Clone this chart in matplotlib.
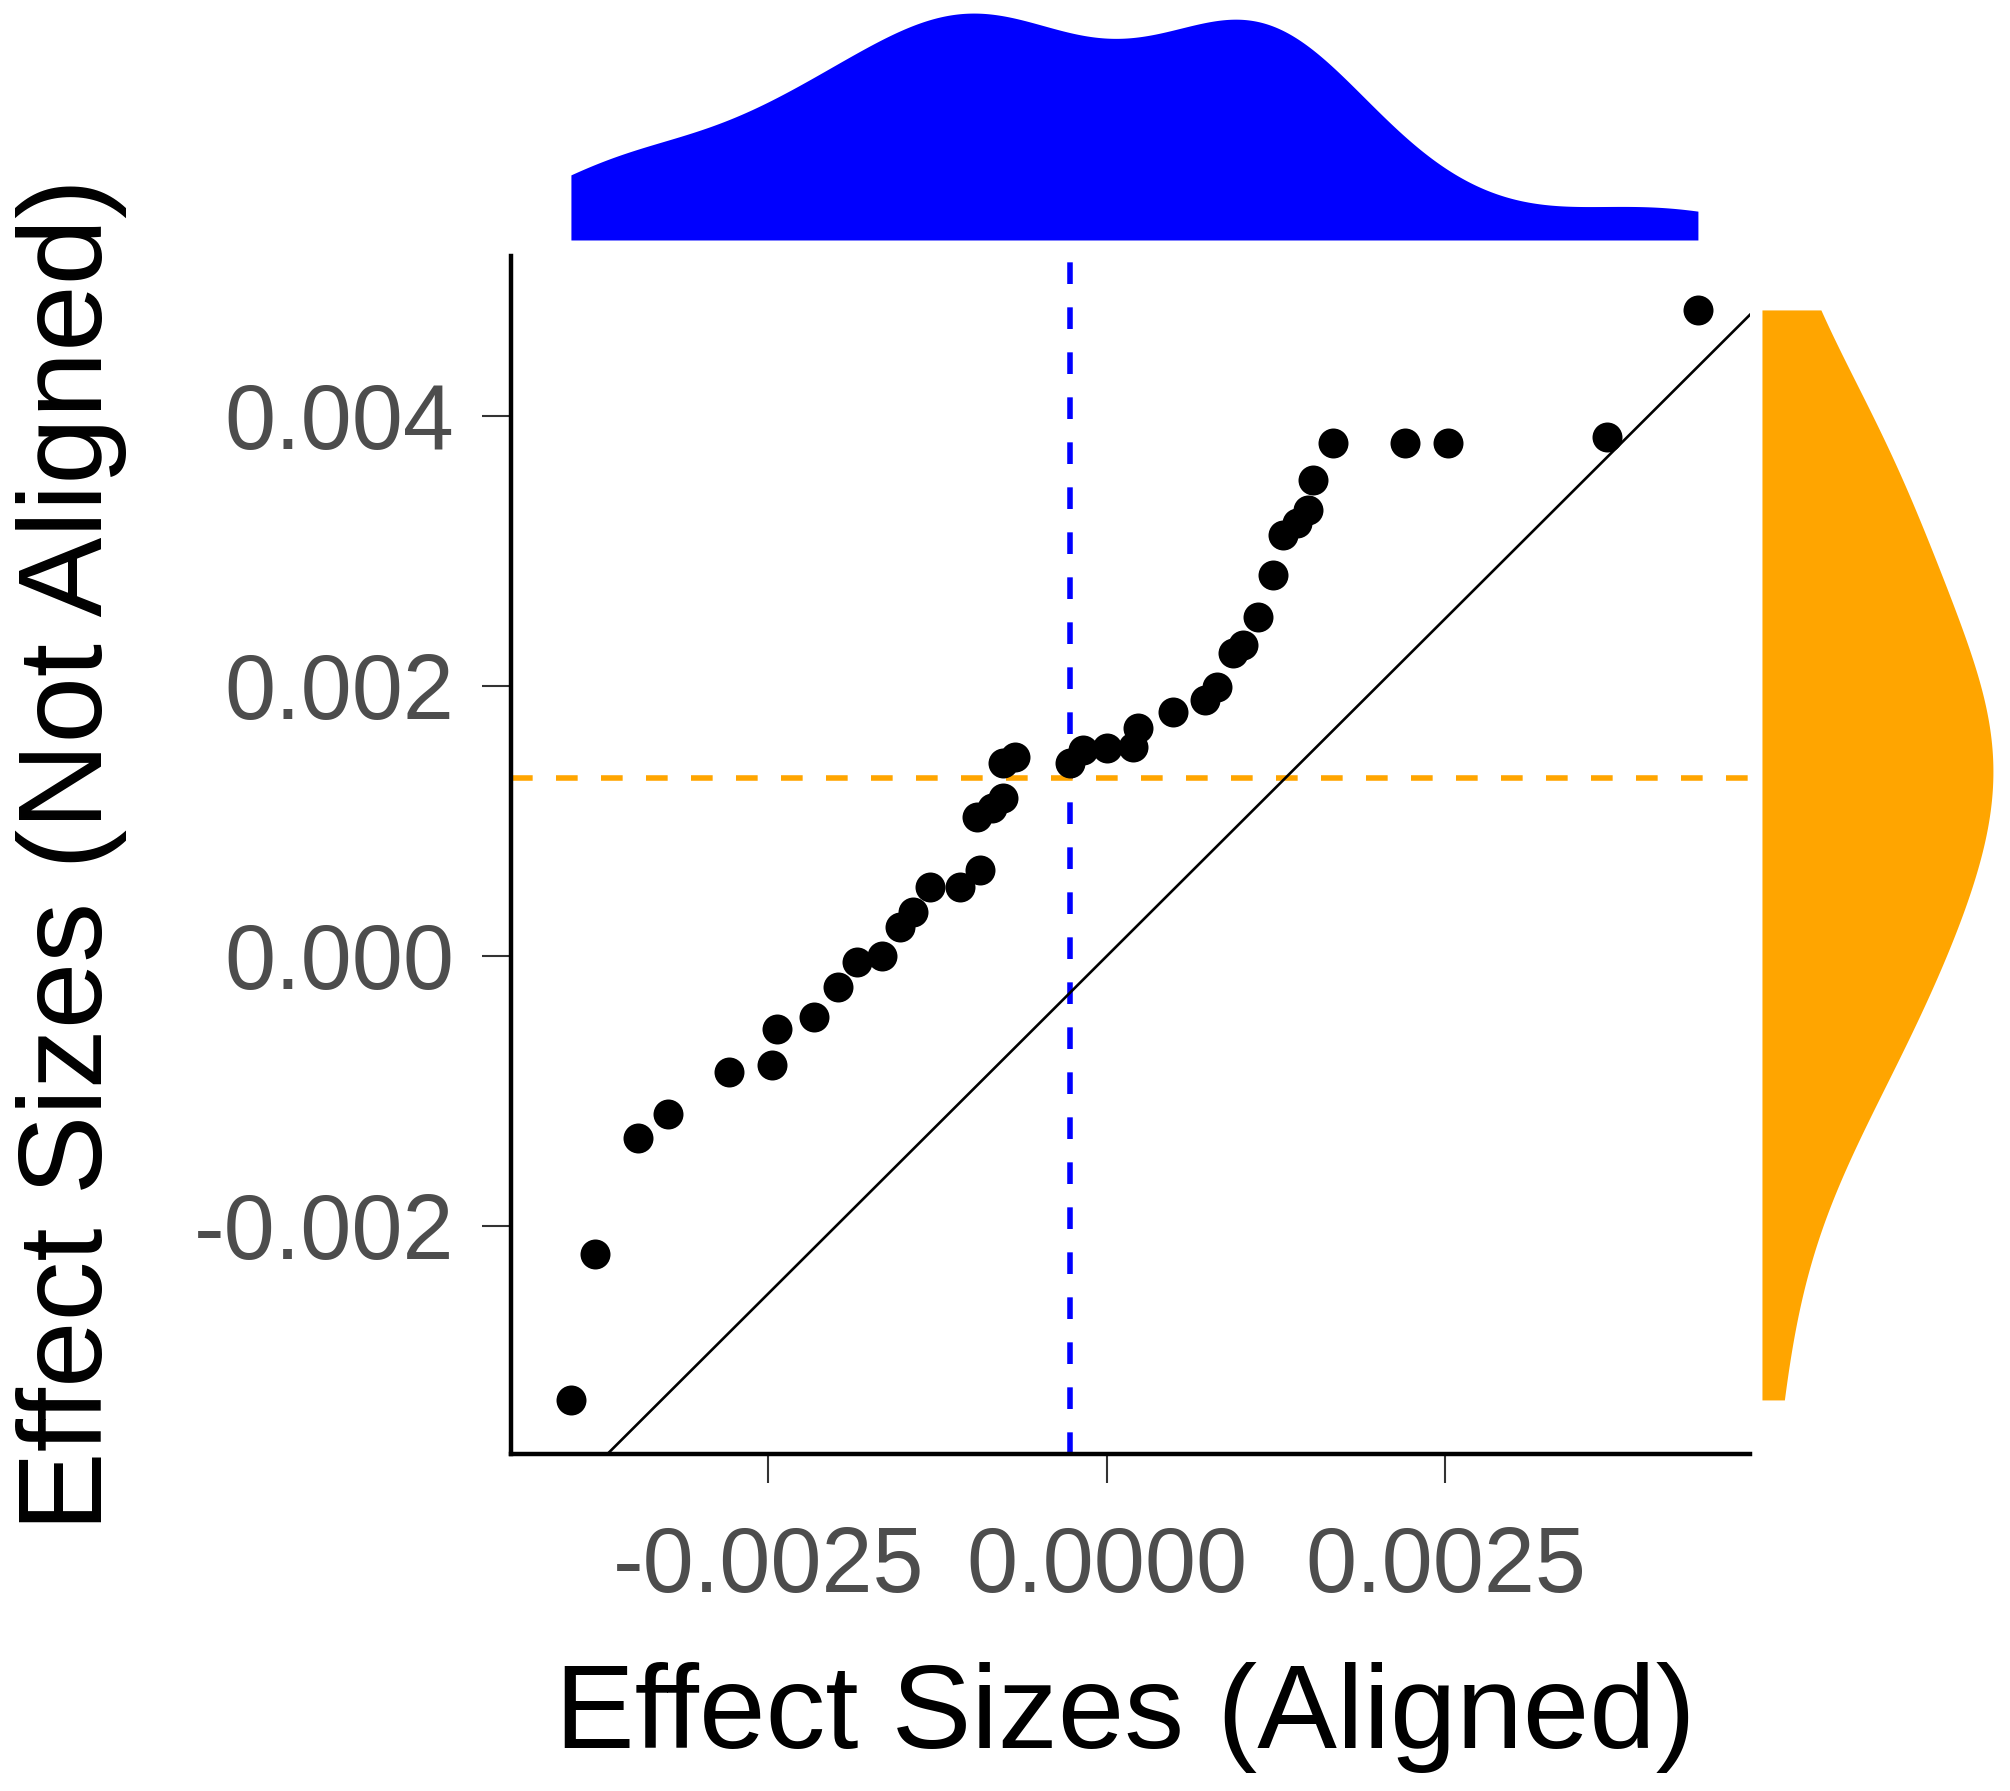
import numpy as np
import matplotlib
matplotlib.use("Agg")
import matplotlib.pyplot as plt

plt.rcParams['font.family'] = ['Liberation Sans', 'DejaVu Sans']

# effect sizes (aligned on x, not aligned on y)
x_aligned = [-0.003959, -0.003781, -0.003464, -0.003242, -0.002792, -0.002474,
             -0.002437, -0.002164, -0.001987, -0.001846, -0.001662, -0.001529,
             -0.001433, -0.001307, -0.001086, -0.000938, -0.000960, -0.000849,
             -0.000768, -0.000768, -0.000679, -0.000273, -0.000177, 0.000000,
             0.000192, 0.000229, 0.000487, 0.000724, 0.000812, 0.000931,
             0.001004, 0.001115, 0.001226, 0.001300, 0.001403, 0.001484,
             0.001521, 0.001669, 0.002201, 0.002518, 0.003693, 0.004365]
y_not_aligned = [-0.003289, -0.002207, -0.001348, -0.001170, -0.000859, -0.000807,
                 -0.000541, -0.000452, -0.000230, -0.000044, 0.000000, 0.000215,
                 0.000326, 0.000511, 0.000511, 0.000637, 0.001030, 0.001096,
                 0.001170, 0.001430, 0.001474, 0.001430, 0.001526, 0.001541,
                 0.001548, 0.001689, 0.001807, 0.001896, 0.001993, 0.002244,
                 0.002304, 0.002511, 0.002822, 0.003119, 0.003207, 0.003304,
                 0.003526, 0.003800, 0.003800, 0.003800, 0.003844, 0.004785]

# reference lines (means)
x_ref = -0.000273
y_ref = 0.001319

x_ticks = [-0.0025, 0.0, 0.0025]
x_ticklabels = ["-0.0025", "0.0000", "0.0025"]
y_ticks = [-0.002, 0.0, 0.002, 0.004]
y_ticklabels = ["-0.002", "0.000", "0.002", "0.004"]

x_lim = (-0.004402, 0.004749)
y_lim = (-0.003689, 0.005185)


def density(values, grid, adjust=1.0):
    # gaussian kde, R's nrd0 bandwidth times adjust
    v = np.asarray(values)
    n = len(v)
    iqr = np.percentile(v, 75) - np.percentile(v, 25)
    bw = adjust * 0.9 * min(np.std(v, ddof=1), iqr / 1.34) * n ** -0.2
    z = (grid[:, None] - v[None, :]) / bw
    return np.exp(-0.5 * z ** 2).sum(axis=1) / (n * bw * np.sqrt(2 * np.pi))


fig = plt.figure(figsize=(20.1, 17.91), dpi=100)
ax = fig.add_axes([0.2542, 0.1882, 0.6164, 0.6689])
ax_top = fig.add_axes([0.2542, 0.8660, 0.6164, 0.1267])
ax_right = fig.add_axes([0.8766, 0.1882, 0.1149, 0.6689])

dash = (0, (3.9, 4.2))
ax.axline((0, 0), slope=1, color="black", lw=1.9, zorder=2)
ax.axvline(x_ref, color="#0000FF", lw=4.0, ls=dash, zorder=1)
ax.axhline(y_ref, color="#FFA500", lw=4.0, ls=dash, zorder=1)
ax.scatter(x_aligned, y_not_aligned, s=466, color="black", linewidths=0, zorder=3)

ax.set_xlim(*x_lim)
ax.set_ylim(*y_lim)
ax.set_xticks(x_ticks)
ax.set_xticklabels(x_ticklabels)
ax.set_yticks(y_ticks)
ax.set_yticklabels(y_ticklabels)
for s in ["top", "right"]:
    ax.spines[s].set_visible(False)
for s in ["left", "bottom"]:
    ax.spines[s].set_linewidth(3.2)
ax.tick_params(length=21, width=1.5, color="#333333", labelcolor="#4D4D4D",
               labelsize=66)
ax.tick_params(axis="x", pad=30)
ax.tick_params(axis="y", pad=20)

ax.set_xlabel("Effect Sizes (Aligned)", fontsize=86, color="black")
ax.set_ylabel("Effect Sizes (Not Aligned)", fontsize=86, color="black")
ax.xaxis.label.set_va("center")
ax.yaxis.label.set_va("center")
ax.xaxis.set_label_coords(0.496, -0.220)
ax.yaxis.set_label_coords(-0.355, 0.5)

# marginal densities over the data range
gx = np.linspace(min(x_aligned), max(x_aligned), 512)
dx = density(x_aligned, gx, adjust=0.78)
ax_top.fill_between(gx, 0, dx, color="#0000FF", lw=0)
ax_top.set_xlim(*x_lim)
ax_top.set_ylim(0, dx.max())
ax_top.axis("off")

gy = np.linspace(min(y_not_aligned), max(y_not_aligned), 512)
dy = density(y_not_aligned, gy, adjust=1.3)
ax_right.fill_betweenx(gy, 0, dy, color="#FFA500", lw=0)
ax_right.set_ylim(*y_lim)
ax_right.set_xlim(0, dy.max())
ax_right.axis("off")

plt.savefig("out.png", dpi=100)
